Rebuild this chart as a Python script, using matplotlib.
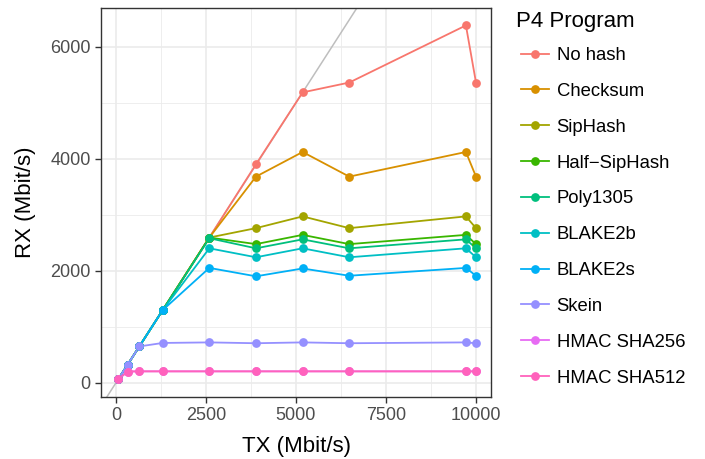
import matplotlib
matplotlib.use("Agg")
import matplotlib.pyplot as plt
from matplotlib.lines import Line2D

plt.rcParams['font.family'] = ['Liberation Sans', 'DejaVu Sans']

# TX rates (Mbit/s)
tx = [64, 324, 648, 1296, 2592, 3888, 5184, 6480, 9720, 10000]

programs = ['No hash', 'Checksum', 'SipHash', 'Half\u2212SipHash', 'Poly1305',
            'BLAKE2b', 'BLAKE2s', 'Skein', 'HMAC SHA256', 'HMAC SHA512']
colors = ['#F8766D', '#D89000', '#A3A500', '#39B600', '#00BF7D',
          '#00BFC4', '#00B0F6', '#9590FF', '#E76BF3', '#FF62BC']

# RX rates (Mbit/s) per program
rx_nohash = [64, 324, 648, 1296, 2592, 3900, 5184, 5360, 6380, 5360]
rx_checksum = [64, 324, 648, 1296, 2592, 3680, 4120, 3680, 4120, 3680]
rx_siphash = [64, 324, 648, 1296, 2592, 2760, 2970, 2760, 2970, 2760]
rx_halfsip = [64, 324, 648, 1296, 2592, 2475, 2640, 2475, 2640, 2475]
rx_poly = [64, 324, 648, 1296, 2580, 2400, 2560, 2400, 2560, 2400]
rx_blake2b = [64, 324, 648, 1296, 2400, 2240, 2400, 2240, 2400, 2240]
rx_blake2s = [64, 324, 648, 1296, 2050, 1900, 2040, 1910, 2050, 1910]
rx_skein = [64, 324, 648, 710, 720, 705, 720, 705, 720, 705]
rx_sha256 = [64, 200, 203, 203, 203, 203, 203, 203, 203, 203]
rx_sha512 = [64, 200, 203, 203, 203, 203, 203, 203, 203, 203]

series = [rx_nohash, rx_checksum, rx_siphash, rx_halfsip, rx_poly,
          rx_blake2b, rx_blake2s, rx_skein, rx_sha256, rx_sha512]

fig = plt.figure(figsize=(7.05, 4.59), dpi=100)
ax = fig.add_axes([101 / 705, 1 - 397 / 459, 390 / 705, 389 / 459])

ax.axline((0, 0), slope=1, color='#BEBEBE', lw=1.1, zorder=1.5)

for ys, c in zip(series, colors):
    ax.plot(tx, ys, color=c, lw=1.3, zorder=2, solid_capstyle='butt')
for ys, c in zip(series, colors):
    ax.plot(tx, ys, ls='none', marker='o', ms=6.3, color=c, mew=0, zorder=3)

ax.set_xlim(-417, 10417)
ax.set_ylim(-255, 6691)
ax.set_xticks([0, 2500, 5000, 7500, 10000])
ax.set_yticks([0, 2000, 4000, 6000])
ax.set_xticks([1250, 3750, 6250, 8750], minor=True)
ax.set_yticks([1000, 3000, 5000], minor=True)

ax.grid(True, which='major', color='#EBEBEB', lw=1.2, zorder=0)
ax.grid(True, which='minor', color='#EBEBEB', lw=0.6, zorder=0)
ax.set_axisbelow(True)
ax.tick_params(which='minor', length=0)
ax.tick_params(which='major', length=4, width=1.0, color='#333333',
               labelcolor='#4D4D4D', labelsize=13, pad=3.5)
for s in ax.spines.values():
    s.set_color('#333333')
    s.set_linewidth(1.0)

ax.set_xlabel('TX (Mbit/s)', fontsize=16, labelpad=8)
ax.set_ylabel('RX (Mbit/s)', fontsize=16, labelpad=10)

# legend title as separate text, entries below
fig.text(516 / 705, 1 - 21 / 459, 'P4 Program', fontsize=16,
         ha='left', va='center')
handles = [Line2D([], [], color=c, lw=1.3, marker='o', ms=6.3, mew=0)
           for c in colors]
leg = fig.legend(handles, programs, loc='upper left',
                 bbox_to_anchor=(521 / 705, 1 - 47 / 459), frameon=False,
                 fontsize=13.3, labelspacing=1.02, handlelength=1.5,
                 handletextpad=0.43, borderpad=0, borderaxespad=0)

fig.savefig('out.png', dpi=100)
